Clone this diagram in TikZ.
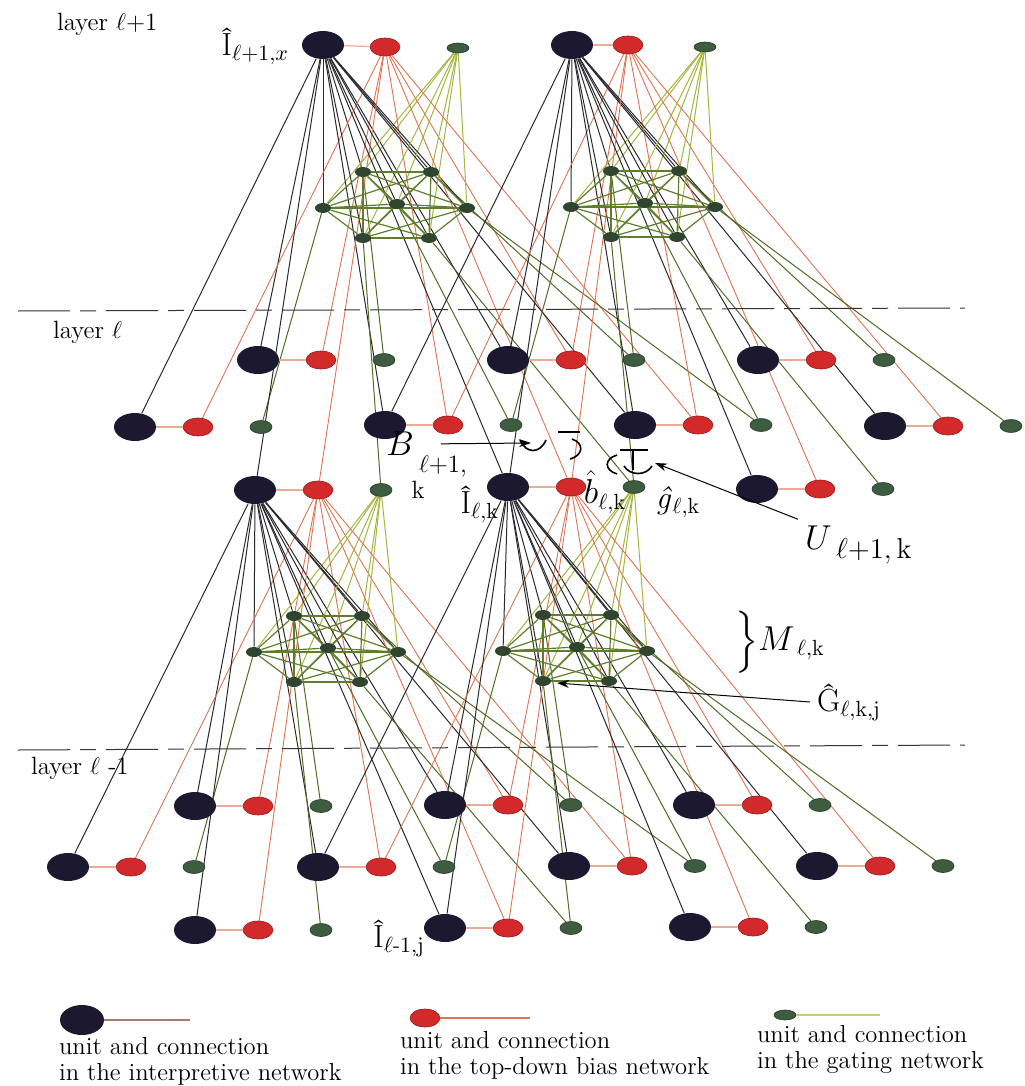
\documentclass[tikz,border=0pt]{standalone}
\usepackage{amsmath}
\usetikzlibrary{shapes.geometric,arrows.meta,backgrounds}

\definecolor{inkI}{HTML}{1C1830}
\definecolor{inkB}{HTML}{D22A2A}
\definecolor{inkG}{HTML}{3E5C40}
\definecolor{wireI}{HTML}{2A2A2E}
\definecolor{wireB}{HTML}{DC7452}
\definecolor{wireG}{HTML}{A6B43E}
\definecolor{wireH}{HTML}{5E7E2C}

\newcommand{\lblfont}{\fontsize{12.5}{14}\selectfont}
\newcommand{\legfont}{\fontsize{12.3}{13.2}\selectfont}
\newcommand{\symfont}{\fontsize{16}{18}\selectfont}

\tikzset{
  iunit/.style={ellipse,fill=inkI,minimum width=21pt,minimum height=14pt,inner sep=0pt},
  bunit/.style={ellipse,fill=inkB,draw=inkB!70!black,line width=0.3pt,minimum width=15pt,minimum height=9pt,inner sep=0pt},
  gunit/.style={ellipse,fill=inkG,draw=inkG!60!black,line width=0.3pt,minimum width=11pt,minimum height=6.5pt,inner sep=0pt},
  hunit/.style={ellipse,fill=inkG!75!black,minimum width=8pt,minimum height=5pt,inner sep=0pt},
  iline/.style={draw=wireI,line width=0.5pt},
  bline/.style={draw=wireB,line width=0.45pt},
  gline/.style={draw=wireG,line width=0.5pt},
  gdown/.style={draw=wireH!85!black,line width=0.5pt},
  hline/.style={draw=wireH,line width=0.6pt},
  link/.style={draw=wireB!60,line width=0.6pt},
  layerline/.style={draw=black!80,line width=0.5pt,dash pattern=on 26pt off 5pt on 8pt off 5pt},
  synapse/.style={draw=black,line width=0.8pt},
  pointer/.style={draw=black,line width=0.5pt,-{Stealth[length=6pt,width=4pt]}},
}

% one unit of each network: interpretive, bias, gating
\newcommand{\unittriple}[3]{%
  \node[iunit] (#1-I) at (#2,#3) {};
  \node[bunit] (#1-b) at (#2+63,#3) {};
  \node[gunit] (#1-g) at (#2+126,#3) {};
  \draw[link] (#1-I) -- (#1-b);
}

% seven gating units of one module
\newcommand{\hexgate}[3]{%
  \foreach \dx/\dy [count=\j] in {-34/-32,34/-32,-74/4,0/0,70/4,-34/34,32/34}
    \node[hunit] (#1-\j) at (#2+\dx,#3+\dy) {};
}

% wiring of one module to its field in the layer below
\newcommand{\wiremodule}[3]{%
  \foreach \u [count=\j] in {#3} {
    \draw[iline] (#1-I) -- (\u-I);
    \draw[iline] (#1-I) -- (#2-\j);
    \draw[bline] (#1-b) -- (\u-b);
    \draw[gline] (#1-g) -- (#2-\j);
    \draw[gdown] (#2-\j) -- (\u-g);
  }
  \foreach \a in {1,...,6} {
    \pgfmathtruncatemacro{\nx}{\a+1}
    \foreach \c in {\nx,...,7} \draw[hline] (#2-\a) -- (#2-\c);
  }
}

\begin{document}
\begin{tikzpicture}[x=0.5pt,y=-0.5pt]
\useasboundingbox (0,0) rectangle (1024,1086);

% layer l+1
\node[iunit] (t1-I) at (323,45) {};
\node[bunit] (t1-b) at (385,47) {};
\node[gunit,minimum height=5pt] (t1-g) at (458,48) {};
\draw[link] (t1-I) -- (t1-b);
\node[iunit] (t2-I) at (572,45) {};
\node[bunit] (t2-b) at (628,45) {};
\node[gunit,minimum height=5pt] (t2-g) at (705,47) {};
\draw[link] (t2-I) -- (t2-b);

% layer l
\unittriple{lA1}{258}{360}
\unittriple{lA2}{508}{360}
\unittriple{lA3}{758}{360}
\unittriple{lB1}{135}{427}
\unittriple{lB2}{385}{425}
\unittriple{lB3}{635}{425}
\unittriple{lB4}{885}{426}
\unittriple{lC1}{255}{490}
\unittriple{lC2}{508}{487}
\unittriple{lC3}{757}{489}

% layer l-1
\unittriple{mA1}{195}{806}
\unittriple{mA2}{445}{805}
\unittriple{mA3}{694}{805}
\unittriple{mB1}{68}{867}
\unittriple{mB2}{318}{867}
\unittriple{mB3}{569}{866}
\unittriple{mB4}{817}{866}
\unittriple{mC1}{195}{930}
\unittriple{mC2}{445}{928}
\unittriple{mC3}{690}{927}

% gating clusters
\hexgate{h1}{397}{204}
\hexgate{h2}{645}{203}
\hexgate{h3}{328}{648}
\hexgate{h4}{577}{647}

% connections
\begin{scope}[on background layer]
\wiremodule{t1}{h1}{lA1,lA2,lB1,lB2,lB3,lC1,lC2}
\wiremodule{t2}{h2}{lA2,lA3,lB2,lB3,lB4,lC2,lC3}
\wiremodule{lC1}{h3}{mA1,mA2,mB1,mB2,mB3,mC1,mC2}
\wiremodule{lC2}{h4}{mA2,mA3,mB2,mB3,mB4,mC2,mC3}
\end{scope}

% layer borders
\draw[layerline] (18,311) -- (965,308);
\draw[layerline] (18,750) -- (965,745);
\node[anchor=west,font=\lblfont] (lay1) at (50,24) {layer $\ell$+1};
\node[anchor=west,font=\lblfont] (lay2) at (46,332) {layer $\ell$};
\node[anchor=west,font=\lblfont] (lay3) at (24,768) {layer $\ell$ -1};

% synapse marks
\draw[synapse] (558,432) -- (580,432);
\draw[synapse] (520,440) .. controls (526,454) and (540,454) .. (546,440);
\draw[synapse] (572,439) .. controls (584,443) and (584,455) .. (570,459);
\draw[synapse] (620,450) -- (648,450);
\draw[synapse] (633,450) -- (633,470);
\draw[synapse] (617,455) .. controls (604,459) and (604,470) .. (617,474);
\draw[synapse] (624,466) .. controls (630,476) and (646,476) .. (652,466);

% labels
\node[anchor=east,font=\symfont] (hatIx) at (296,46) {Î$_{\ell+1,x}$};
\node[font=\fontsize{19}{20}\selectfont] (Blab) at (400,444) {$B$};
\node[anchor=west,font=\lblfont] (Bsub) at (412,467) {$\ell$+1,};
\node[font=\lblfont] (Bk) at (418,490) {k};
\node[anchor=east,font=\symfont] (hatIk) at (506,504) {Î$_{\ell,\mathrm{k}}$};
\node[font=\symfont] (hatbk) at (605,492) {$\hat{b}_{\ell,\mathrm{k}}$};
\node[font=\symfont] (hatgk) at (678,502) {\textit{ĝ}$_{\ell,\mathrm{k}}$};
\node[anchor=west,font=\fontsize{19}{20}\selectfont] (Ulab) at (798,545) {$U_{\;\ell+1,\,\mathrm{k}}$};
\node[anchor=west,font=\symfont] (Mlab) at (728,642) {$\Big\}M_{\;\ell,\mathrm{k}}$};
\node[anchor=west,font=\symfont] (Glab) at (810,702) {Ĝ$_{\ell,\mathrm{k},\mathrm{j}}$};
\node[anchor=east,font=\symfont] (hatIj) at (432,938) {Î$_{\ell\text{-}1,\mathrm{j}}$};

% pointers
\coordinate (Btip) at (531,443);
\coordinate (Utip) at (655,463);
\coordinate (Gtip) at (557,683);
\draw[pointer,shorten <=10pt] (Blab.east) -- (Btip);
\draw[pointer] (Ulab.north west) -- (Utip);
\draw[pointer] (Glab.west) -- (Gtip);

% legend
\node[iunit,minimum width=22pt,minimum height=15pt] (legI) at (82,1020) {};
\coordinate (legIend) at (190,1020);
\draw[draw=wireB!50!gray,line width=0.6pt] (legI) -- (legIend);
\node[bunit] (legB) at (425,1018) {};
\coordinate (legBend) at (530,1018);
\draw[draw=wireB,line width=0.6pt] (legB) -- (legBend);
\node[gunit,minimum height=5pt] (legG) at (785,1015) {};
\coordinate (legGend) at (880,1015);
\draw[draw=wireG!70,line width=0.8pt] (legG) -- (legGend);

\node[anchor=north west,align=left,font=\legfont] (legIt) at (52,1030) {unit and connection\\in the interpretive network};
\node[anchor=north west,align=left,font=\legfont] (legBt) at (393,1024) {unit and connection\\in the top-down bias network};
\node[anchor=north west,align=left,font=\legfont] (legGt) at (750,1018) {unit and connection\\in the gating network};
\end{tikzpicture}
\end{document}
